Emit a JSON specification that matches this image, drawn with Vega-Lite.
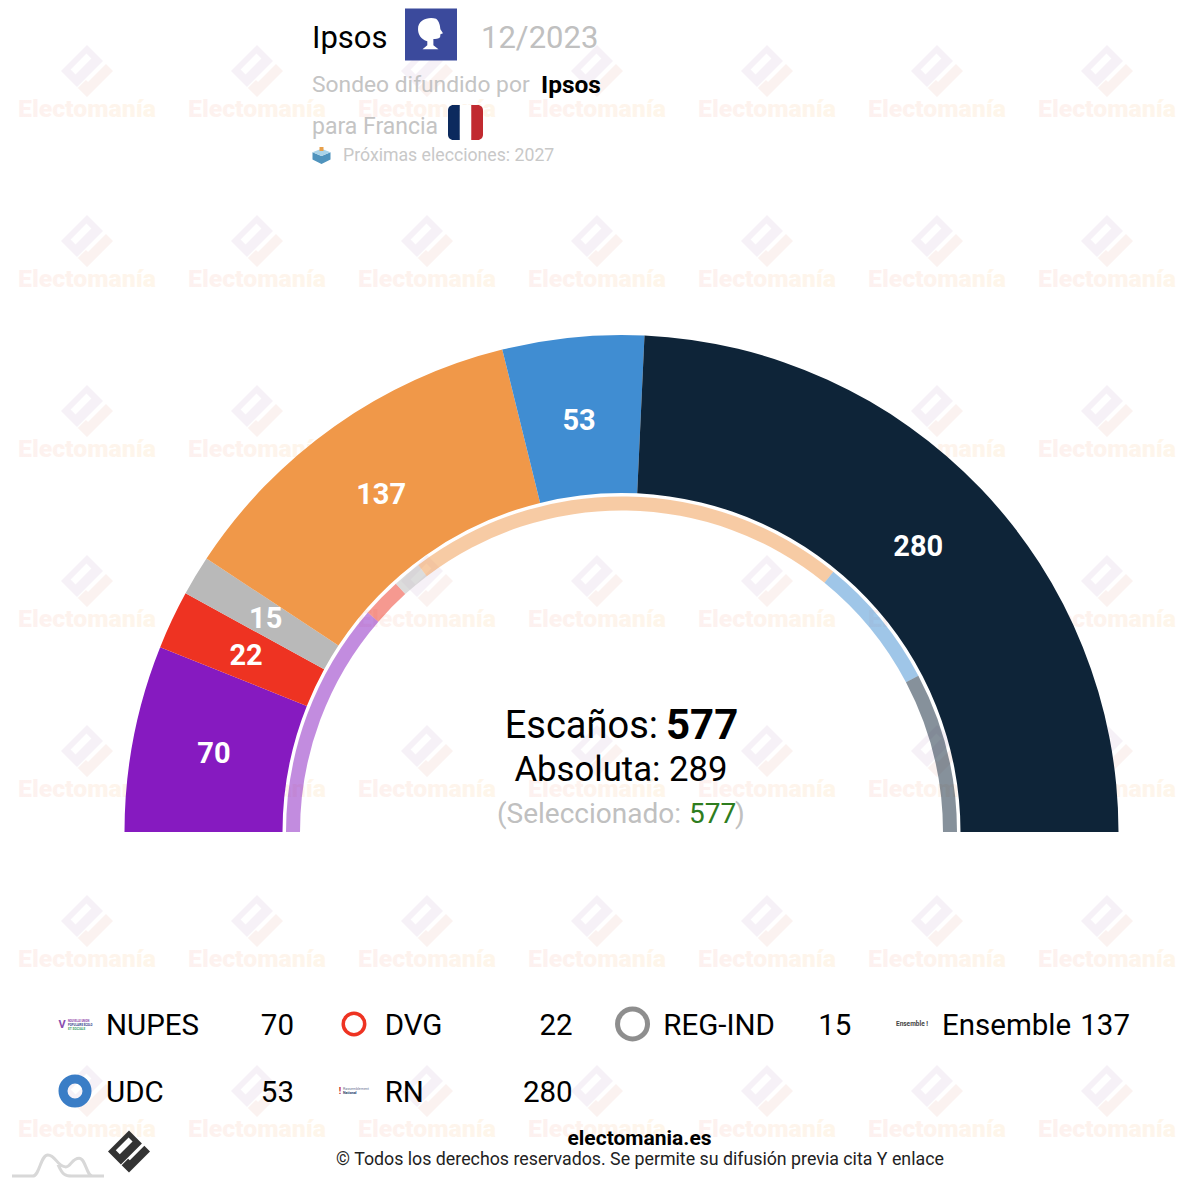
{
  "$schema": "https://vega.github.io/schema/vega-lite/v6.json",
  "width": 1180,
  "height": 1186,
  "padding": 0,
  "autosize": {"type": "none"},
  "background": "white",
  "data": {"values": [{"page": 1}]},
  "datasets": {
    "grid": [
      {"col":0,"row":0},{"col":1,"row":0},{"col":2,"row":0},{"col":3,"row":0},{"col":4,"row":0},{"col":5,"row":0},{"col":6,"row":0},
      {"col":0,"row":1},{"col":1,"row":1},{"col":2,"row":1},{"col":3,"row":1},{"col":4,"row":1},{"col":5,"row":1},{"col":6,"row":1},
      {"col":0,"row":2},{"col":1,"row":2},{"col":2,"row":2},{"col":3,"row":2},{"col":4,"row":2},{"col":5,"row":2},{"col":6,"row":2},
      {"col":0,"row":3},{"col":1,"row":3},{"col":2,"row":3},{"col":3,"row":3},{"col":4,"row":3},{"col":5,"row":3},{"col":6,"row":3},
      {"col":0,"row":4},{"col":1,"row":4},{"col":2,"row":4},{"col":3,"row":4},{"col":4,"row":4},{"col":5,"row":4},{"col":6,"row":4},
      {"col":0,"row":5},{"col":1,"row":5},{"col":2,"row":5},{"col":3,"row":5},{"col":4,"row":5},{"col":5,"row":5},{"col":6,"row":5},
      {"col":0,"row":6},{"col":1,"row":6},{"col":2,"row":6},{"col":3,"row":6},{"col":4,"row":6},{"col":5,"row":6},{"col":6,"row":6}
    ],
    "parties": [
      {"party":"NUPES","seats":70,"previous":131,"pos":1,"col":0,"row":0},
      {"party":"DVG","seats":22,"previous":22,"pos":2,"col":1,"row":0},
      {"party":"REG-IND","seats":15,"previous":16,"pos":3,"col":2,"row":0},
      {"party":"Ensemble","seats":137,"previous":245,"pos":4,"col":3,"row":0},
      {"party":"UDC","seats":53,"previous":74,"pos":5,"col":0,"row":1},
      {"party":"RN","seats":280,"previous":89,"pos":6,"col":1,"row":1}
    ]
  },
  "config": {
    "font": "Roboto",
    "axis": {"disable": true},
    "view": {"stroke": null},
    "text": {"font": "Roboto"}
  },
  "resolve": {"scale": {"x": "independent", "y": "independent"}},
  "layer": [
    {
      "data": {"name": "grid"},
      "encoding": {
        "x": {"field": "col", "type": "quantitative", "scale": {"domain": [0, 6], "range": [87, 1107]}},
        "y": {"field": "row", "type": "quantitative", "scale": {"domain": [0, 6], "range": [71, 1091]}}
      },
      "layer": [
        {"mark": {"type": "point", "filled": true, "opacity": 1, "size": 2704, "color": "#f6f1f7",
          "shape": "M0,-1 L.615,-.385 L-.385,.615 L-1,0 Z M-.02,-.67 L-.63,-.06 L-.44,.13 L.17,-.48 Z"}},
        {"mark": {"type": "point", "filled": true, "opacity": 1, "size": 2704, "color": "#fbf2f0",
          "shape": "M-.35,.65 L0,1 L1,0 L.73,-.27 L.04,.42 L-.04,.35 Z"}},
        {"mark": {"type": "text", "text": "Electomanía", "dy": 39, "fontSize": 24.8, "fontWeight": 900, "align": "center", "baseline": "middle",
          "fill": {"gradient": "linear", "x1": 0, "y1": 0, "x2": 1, "y2": 0, "stops": [{"offset": 0, "color": "#fdf1f0"}, {"offset": 1, "color": "#fef6ea"}]}}}
      ]
    },
    {
      "data": {"name": "parties"},
      "encoding": {
        "x": {"datum": 621.5, "scale": {"domain": [0, 1180]}},
        "y": {"datum": 832, "scale": {"domain": [1186, 0]}},
        "order": {"field": "pos", "type": "ordinal"},
        "color": {
          "field": "party", "type": "nominal", "legend": null,
          "scale": {
            "domain": ["NUPES", "DVG", "REG-IND", "Ensemble", "UDC", "RN"],
            "range": ["#861ac0", "#ee3322", "#b9b9b9", "#f09849", "#408dd2", "#0e2438"]
          }
        }
      },
      "layer": [
        {
          "mark": {"type": "arc", "radius": 497, "radius2": 339},
          "encoding": {
            "theta": {"field": "seats", "type": "quantitative", "stack": true, "scale": {"domain": [0, 577], "range": [-1.5708, 1.5708]}}
          }
        },
        {
          "mark": {"type": "arc", "radius": 335.5, "radius2": 321.5, "opacity": 0.5},
          "encoding": {
            "theta": {"field": "previous", "type": "quantitative", "stack": true, "scale": {"domain": [0, 577], "range": [-1.5708, 1.5708]}}
          }
        },
        {
          "mark": {"type": "text", "radius": 413, "dx": -2, "fontSize": 29, "fontWeight": "bold", "color": "white", "align": "center", "baseline": "middle"},
          "encoding": {
            "theta": {"field": "seats", "type": "quantitative", "stack": true, "scale": {"domain": [0, 577], "range": [-1.5708, 1.5708]}},
            "text": {"field": "seats", "type": "quantitative"},
            "color": {"value": "white"}
          }
        }
      ]
    },
    {
      "data": {"name": "parties"},
      "encoding": {
        "x": {"field": "col", "type": "quantitative", "scale": {"domain": [0, 3], "range": [106, 942]}},
        "y": {"field": "row", "type": "quantitative", "scale": {"domain": [0, 1], "range": [1026, 1093]}}
      },
      "layer": [
        {"mark": {"type": "text", "align": "left", "baseline": "middle", "fontSize": 29.5, "color": "#000"},
          "encoding": {"text": {"field": "party", "type": "nominal"}}},
        {"mark": {"type": "text", "align": "right", "baseline": "middle", "fontSize": 29.5, "color": "#000", "dx": 188},
          "encoding": {"text": {"field": "seats", "type": "quantitative"}}},
        {"transform": [{"filter": "datum.party === 'DVG'"}],
          "mark": {"type": "point", "filled": false, "opacity": 1, "size": 462, "strokeWidth": 3.5, "color": "#ee3322", "xOffset": -30.7, "yOffset": -2}},
        {"transform": [{"filter": "datum.party === 'REG-IND'"}],
          "mark": {"type": "point", "filled": false, "opacity": 1, "size": 900, "strokeWidth": 5, "color": "#8e8e8e", "xOffset": -30.8, "yOffset": -2}},
        {"transform": [{"filter": "datum.party === 'UDC'"}],
          "mark": {"type": "point", "filled": false, "opacity": 1, "size": 576, "strokeWidth": 9, "color": "#3a7dc6", "xOffset": -31, "yOffset": -2}}
      ]
    },
    {
      "layer": [
        {"mark": {"type": "text", "text": "Ipsos", "align": "left", "baseline": "middle", "fontSize": 31, "color": "#000"},
          "encoding": {"x": {"datum": 312, "scale": {"domain": [0, 1180]}}, "y": {"datum": 39, "scale": {"domain": [1186, 0]}}}},
        {"mark": {"type": "text", "text": "12/2023", "align": "left", "baseline": "middle", "fontSize": 31, "color": "#c0c0c0"},
          "encoding": {"x": {"datum": 481, "scale": {"domain": [0, 1180]}}, "y": {"datum": 39, "scale": {"domain": [1186, 0]}}}},
        {"mark": {"type": "point", "shape": "square", "filled": true, "opacity": 1, "size": 2704, "color": "#3b4a9c"},
          "encoding": {"x": {"datum": 431, "scale": {"domain": [0, 1180]}}, "y": {"datum": 34.5, "scale": {"domain": [1186, 0]}}}},
        {"mark": {"type": "point", "filled": true, "opacity": 1, "size": 1024, "color": "#fff",
          "shape": "M-.78,-.3 C-.8,-.9 -.1,-1.1 .35,-.95 C.55,-.8 .6,-.5 .62,-.3 L.78,-.05 L.62,.02 L.6,.2 C.5,.32 .3,.3 .18,.32 L.18,.7 L.5,.95 L-.5,.95 L-.2,.7 L-.2,.45 C-.6,.35 -.78,0 -.78,-.3 Z"},
          "encoding": {"x": {"datum": 430.5, "scale": {"domain": [0, 1180]}}, "y": {"datum": 34, "scale": {"domain": [1186, 0]}}}},
        {"mark": {"type": "text", "text": "Sondeo difundido por", "align": "left", "baseline": "middle", "fontSize": 22.8, "color": "#c4c4c4"},
          "encoding": {"x": {"datum": 312, "scale": {"domain": [0, 1180]}}, "y": {"datum": 85, "scale": {"domain": [1186, 0]}}}},
        {"mark": {"type": "text", "text": "Ipsos", "align": "left", "baseline": "middle", "fontSize": 24.5, "fontWeight": "bold", "color": "#000"},
          "encoding": {"x": {"datum": 541, "scale": {"domain": [0, 1180]}}, "y": {"datum": 86, "scale": {"domain": [1186, 0]}}}},
        {"mark": {"type": "text", "text": "para Francia", "align": "left", "baseline": "middle", "fontSize": 23, "color": "#c4c4c4"},
          "encoding": {"x": {"datum": 312, "scale": {"domain": [0, 1180]}}, "y": {"datum": 127, "scale": {"domain": [1186, 0]}}}},
        {"mark": {"type": "point", "filled": true, "opacity": 1, "size": 1225, "color": "#ffffff", "shape": "M-.33,-1 L.33,-1 L.33,1 L-.33,1 Z"},
          "encoding": {"x": {"datum": 465.5, "scale": {"domain": [0, 1180]}}, "y": {"datum": 122.5, "scale": {"domain": [1186, 0]}}}},
        {"mark": {"type": "point", "filled": true, "opacity": 1, "size": 1225, "color": "#0c2a5e", "shape": "M-.33,-1 L-.33,1 L-.7,1 C-.87,1 -1,.87 -1,.7 L-1,-.7 C-1,-.87 -.87,-1 -.7,-1 Z"},
          "encoding": {"x": {"datum": 465.5, "scale": {"domain": [0, 1180]}}, "y": {"datum": 122.5, "scale": {"domain": [1186, 0]}}}},
        {"mark": {"type": "point", "filled": true, "opacity": 1, "size": 1225, "color": "#c12a30", "shape": "M.33,-1 L.33,1 L.7,1 C.87,1 1,.87 1,.7 L1,-.7 C1,-.87 .87,-1 .7,-1 Z"},
          "encoding": {"x": {"datum": 465.5, "scale": {"domain": [0, 1180]}}, "y": {"datum": 122.5, "scale": {"domain": [1186, 0]}}}},
        {"mark": {"type": "point", "filled": true, "opacity": 1, "size": 324, "color": "#4f93bd", "shape": "M-1,-.3 L0,.1 L1,-.3 L1,.5 L0,1 L-1,.5 Z"},
          "encoding": {"x": {"datum": 321.5, "scale": {"domain": [0, 1180]}}, "y": {"datum": 155, "scale": {"domain": [1186, 0]}}}},
        {"mark": {"type": "point", "filled": true, "opacity": 1, "size": 324, "color": "#a9d3e8", "shape": "M-1,-.3 L0,-.7 L1,-.3 L0,.1 Z"},
          "encoding": {"x": {"datum": 321.5, "scale": {"domain": [0, 1180]}}, "y": {"datum": 155, "scale": {"domain": [1186, 0]}}}},
        {"mark": {"type": "point", "shape": "square", "filled": true, "opacity": 1, "size": 16, "color": "#e8a04a"},
          "encoding": {"x": {"datum": 321.5, "scale": {"domain": [0, 1180]}}, "y": {"datum": 149, "scale": {"domain": [1186, 0]}}}},
        {"mark": {"type": "text", "text": "Próximas elecciones: 2027", "align": "left", "baseline": "middle", "fontSize": 17.7, "color": "#c8c8c8"},
          "encoding": {"x": {"datum": 343, "scale": {"domain": [0, 1180]}}, "y": {"datum": 156, "scale": {"domain": [1186, 0]}}}},
        {"mark": {"type": "text", "text": "Escaños:", "align": "right", "baseline": "middle", "fontSize": 38, "color": "#000"},
          "encoding": {"x": {"datum": 658, "scale": {"domain": [0, 1180]}}, "y": {"datum": 727, "scale": {"domain": [1186, 0]}}}},
        {"mark": {"type": "text", "text": "577", "align": "left", "baseline": "middle", "fontSize": 42, "fontWeight": "bold", "color": "#000"},
          "encoding": {"x": {"datum": 666, "scale": {"domain": [0, 1180]}}, "y": {"datum": 726, "scale": {"domain": [1186, 0]}}}},
        {"mark": {"type": "text", "text": "Absoluta: 289", "align": "center", "baseline": "middle", "fontSize": 34.7, "color": "#000"},
          "encoding": {"x": {"datum": 621, "scale": {"domain": [0, 1180]}}, "y": {"datum": 771, "scale": {"domain": [1186, 0]}}}},
        {"mark": {"type": "text", "text": "(Seleccionado:", "align": "right", "baseline": "middle", "fontSize": 28, "color": "#c0c0c0"},
          "encoding": {"x": {"datum": 681, "scale": {"domain": [0, 1180]}}, "y": {"datum": 815, "scale": {"domain": [1186, 0]}}}},
        {"mark": {"type": "text", "text": "577", "align": "left", "baseline": "middle", "fontSize": 28, "color": "#2e7d1e"},
          "encoding": {"x": {"datum": 689, "scale": {"domain": [0, 1180]}}, "y": {"datum": 815, "scale": {"domain": [1186, 0]}}}},
        {"mark": {"type": "text", "text": ")", "align": "left", "baseline": "middle", "fontSize": 28, "color": "#c0c0c0"},
          "encoding": {"x": {"datum": 735, "scale": {"domain": [0, 1180]}}, "y": {"datum": 815, "scale": {"domain": [1186, 0]}}}},
        {"mark": {"type": "text", "text": "V", "align": "center", "baseline": "middle", "fontSize": 11, "fontWeight": "bold", "color": "#8a4fb0"},
          "encoding": {"x": {"datum": 62, "scale": {"domain": [0, 1180]}}, "y": {"datum": 1025, "scale": {"domain": [1186, 0]}}}},
        {"mark": {"type": "text", "text": "NOUVELLE UNION", "align": "left", "baseline": "middle", "fontSize": 2.6, "fontWeight": "bold", "color": "#8a3fa8"},
          "encoding": {"x": {"datum": 68, "scale": {"domain": [0, 1180]}}, "y": {"datum": 1021, "scale": {"domain": [1186, 0]}}}},
        {"mark": {"type": "text", "text": "POPULAIRE ÉCOLO", "align": "left", "baseline": "middle", "fontSize": 2.8, "fontWeight": "bold", "color": "#34408a"},
          "encoding": {"x": {"datum": 68, "scale": {"domain": [0, 1180]}}, "y": {"datum": 1025, "scale": {"domain": [1186, 0]}}}},
        {"mark": {"type": "text", "text": "ET SOCIALE", "align": "left", "baseline": "middle", "fontSize": 3.2, "fontWeight": "bold", "color": "#3fa06a"},
          "encoding": {"x": {"datum": 68, "scale": {"domain": [0, 1180]}}, "y": {"datum": 1029, "scale": {"domain": [1186, 0]}}}},
        {"mark": {"type": "text", "text": "Ensemble !", "align": "center", "baseline": "middle", "fontSize": 6.5, "fontWeight": "bold", "color": "#444"},
          "encoding": {"x": {"datum": 912, "scale": {"domain": [0, 1180]}}, "y": {"datum": 1024, "scale": {"domain": [1186, 0]}}}},
        {"mark": {"type": "text", "text": "Rassemblement", "align": "left", "baseline": "middle", "fontSize": 3.6, "color": "#6a7590"},
          "encoding": {"x": {"datum": 343, "scale": {"domain": [0, 1180]}}, "y": {"datum": 1089, "scale": {"domain": [1186, 0]}}}},
        {"mark": {"type": "text", "text": "National", "align": "left", "baseline": "middle", "fontSize": 3.6, "fontWeight": "bold", "color": "#2a3a6a"},
          "encoding": {"x": {"datum": 343, "scale": {"domain": [0, 1180]}}, "y": {"datum": 1093, "scale": {"domain": [1186, 0]}}}},
        {"mark": {"type": "text", "text": "!", "align": "center", "baseline": "middle", "fontSize": 9, "fontWeight": "bold", "color": "#c12a30"},
          "encoding": {"x": {"datum": 340, "scale": {"domain": [0, 1180]}}, "y": {"datum": 1091, "scale": {"domain": [1186, 0]}}}},
        {"mark": {"type": "text", "text": "electomania.es", "align": "center", "baseline": "middle", "fontSize": 21, "fontWeight": "bold", "color": "#000"},
          "encoding": {"x": {"datum": 639.5, "scale": {"domain": [0, 1180]}}, "y": {"datum": 1139, "scale": {"domain": [1186, 0]}}}},
        {"mark": {"type": "text", "text": "© Todos los derechos reservados. Se permite su difusión previa cita Y enlace", "align": "center", "baseline": "middle", "fontSize": 17.8, "color": "#222"},
          "encoding": {"x": {"datum": 640, "scale": {"domain": [0, 1180]}}, "y": {"datum": 1160, "scale": {"domain": [1186, 0]}}}},
        {"mark": {"type": "point", "filled": false, "opacity": 1, "size": 8464, "strokeWidth": 3, "color": "#d8d8d8",
          "shape": "M-1,.23 L-.55,.23 C-.4,.23 -.38,-.23 -.22,-.23 C-.05,-.23 -.02,.03 .17,.03 C.28,.03 .3,-.16 .46,-.16 C.6,-.16 .62,.23 .75,.23 L1,.23 M0,-.02 C.1,.2 .15,.23 .3,.23 L.75,.23"},
          "encoding": {"x": {"datum": 58, "scale": {"domain": [0, 1180]}}, "y": {"datum": 1165.5, "scale": {"domain": [1186, 0]}}}},
        {"mark": {"type": "point", "filled": true, "opacity": 1, "size": 1764, "color": "#333333",
          "shape": "M0,-1 L.615,-.385 L-.385,.615 L-1,0 Z M-.02,-.67 L-.63,-.06 L-.44,.13 L.17,-.48 Z"},
          "encoding": {"x": {"datum": 129, "scale": {"domain": [0, 1180]}}, "y": {"datum": 1151.5, "scale": {"domain": [1186, 0]}}}},
        {"mark": {"type": "point", "filled": true, "opacity": 1, "size": 1764, "color": "#333333",
          "shape": "M-.35,.65 L0,1 L1,0 L.73,-.27 L.04,.42 L-.04,.35 Z"},
          "encoding": {"x": {"datum": 129, "scale": {"domain": [0, 1180]}}, "y": {"datum": 1151.5, "scale": {"domain": [1186, 0]}}}}
      ]
    }
  ]
}
